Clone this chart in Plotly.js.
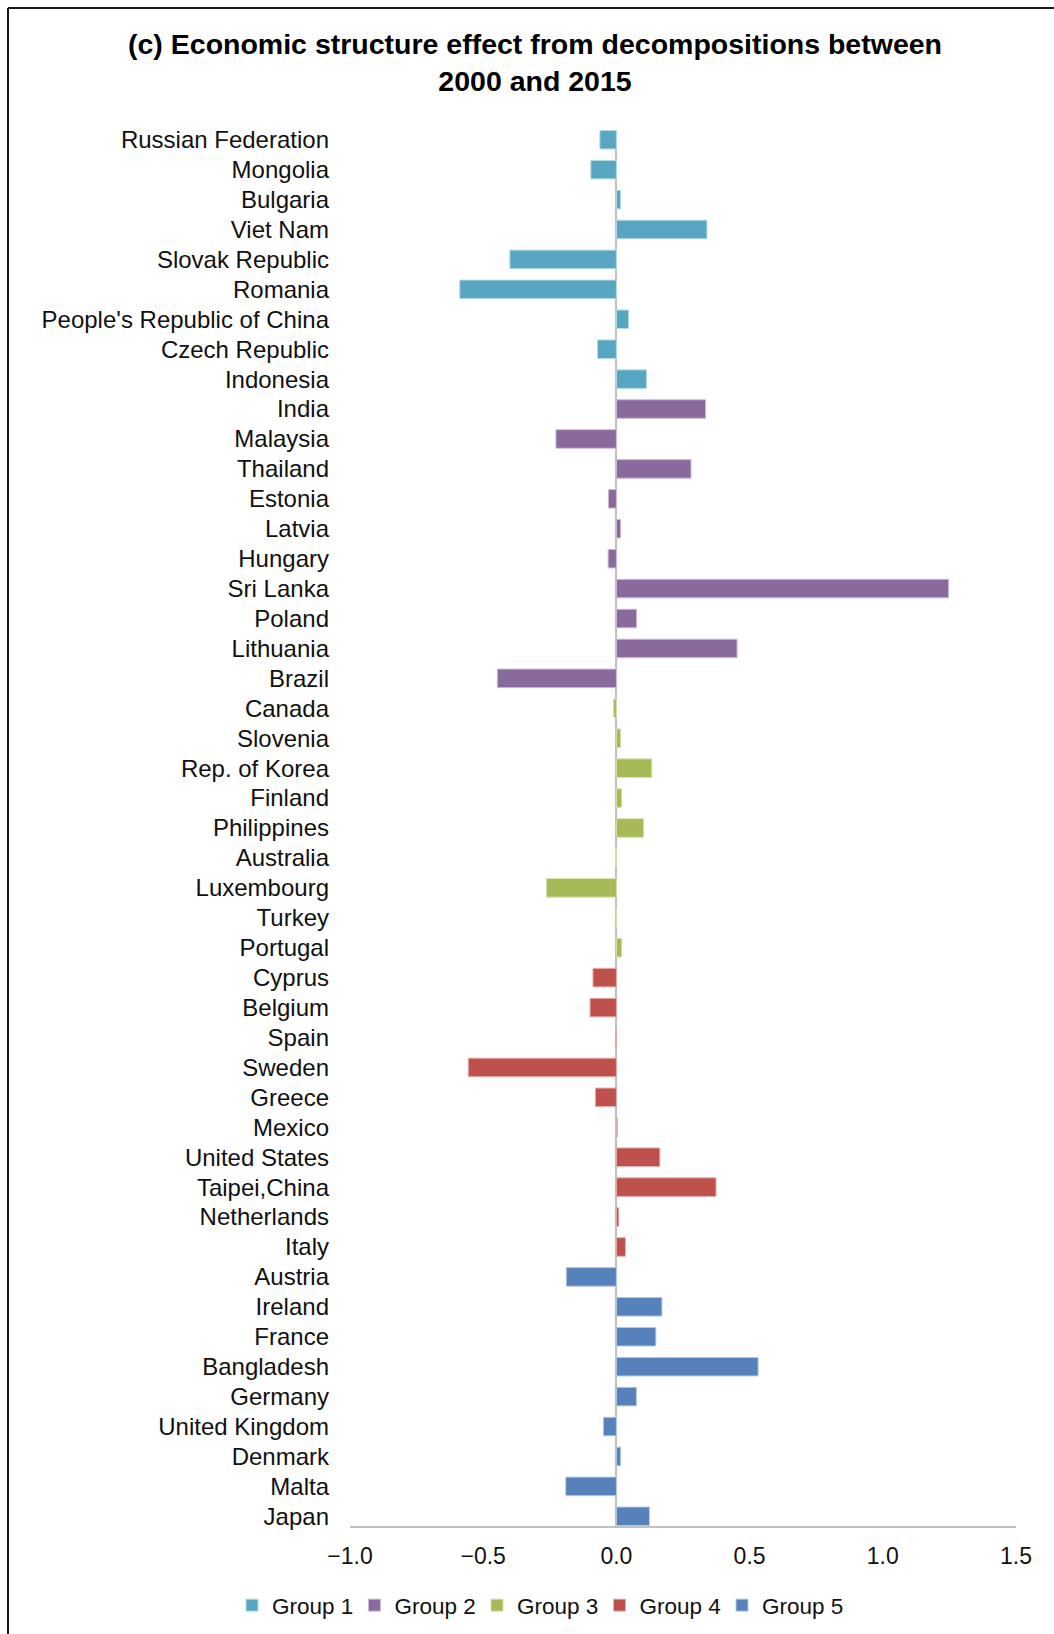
<!DOCTYPE html>
<html>
<head>
<meta charset="utf-8">
<script src="https://cdn.plot.ly/plotly-3.0.1.min.js"></script>
<style>
html,body{margin:0;padding:0;background:#fff;}
#chart{width:1054px;height:1634px;}
</style>
</head>
<body>
<div id="chart"></div>
<script>
// ---- data ----
const group1Countries = ["Russian Federation","Mongolia","Bulgaria","Viet Nam","Slovak Republic","Romania","People's Republic of China","Czech Republic","Indonesia"];
const group1Values = [-0.062,-0.096,0.016,0.340,-0.400,-0.588,0.046,-0.071,0.113];

const group2Countries = ["India","Malaysia","Thailand","Estonia","Latvia","Hungary","Sri Lanka","Poland","Lithuania","Brazil"];
const group2Values = [0.335,-0.227,0.280,-0.030,0.016,-0.031,1.247,0.076,0.453,-0.447];

const group3Countries = ["Canada","Slovenia","Rep. of Korea","Finland","Philippines","Australia","Luxembourg","Turkey","Portugal"];
const group3Values = [-0.011,0.016,0.133,0.020,0.102,-0.003,-0.263,0.000,0.020];

const group4Countries = ["Cyprus","Belgium","Spain","Sweden","Greece","Mexico","United States","Taipei,China","Netherlands","Italy"];
const group4Values = [-0.088,-0.099,-0.003,-0.556,-0.079,0.004,0.163,0.374,0.009,0.034];

const group5Countries = ["Austria","Ireland","France","Bangladesh","Germany","United Kingdom","Denmark","Malta","Japan"];
const group5Values = [-0.188,0.171,0.148,0.532,0.075,-0.049,0.016,-0.190,0.124];

const groupNames = ["Group 1","Group 2","Group 3","Group 4","Group 5"];
const groupColors = ["#57A7C3","#8A699D","#A6B957","#BE514C","#5781BA"];
const groupLineColors = ["#B5DCE8","#CDBBD8","#D6E2AE","#E4AEAB","#B4C8E4"];

const xTickVals = [-1.0,-0.5,0.0,0.5,1.0,1.5];

const titleText = "(c) Economic structure effect from decompositions between<br>2000 and 2015";

// ---- build ----
const allCountries = [].concat(group1Countries, group2Countries, group3Countries, group4Countries, group5Countries);
const groups = [
  [group1Countries, group1Values],
  [group2Countries, group2Values],
  [group3Countries, group3Values],
  [group4Countries, group4Values],
  [group5Countries, group5Values]
];

const traces = groups.map((g, i) => ({
  type: 'bar',
  orientation: 'h',
  name: groupNames[i],
  y: g[0],
  x: g[1],
  width: 0.62,
  marker: {color: groupColors[i], line: {color: groupLineColors[i], width: 1}},
  hoverinfo: 'y+x'
}));

const FONT = '"Liberation Sans", Arial, sans-serif';
const n = allCountries.length;

const layout = {
  width: 1054,
  height: 1634,
  paper_bgcolor: '#fff',
  plot_bgcolor: '#fff',
  margin: {l: 350, r: 38, t: 130, b: 108, pad: 0, autoexpand: false},
  barmode: 'overlay',
  showlegend: true,
  font: {family: FONT, color: '#111', size: 23},
  title: {
    text: titleText,
    font: {family: FONT, size: 28.5, color: '#000', weight: 'bold'},
    xref: 'container', x: 0.5076,
    yref: 'container', y: 1 - 53.5/1634, yanchor: 'middle', xanchor: 'center'
  },
  xaxis: {
    range: [-1.0, 1.5],
    tickvals: xTickVals,
    tickformat: '.1f',
    showgrid: false,
    zeroline: true,
    zerolinecolor: '#BFBFBF',
    zerolinewidth: 1.5,
    showline: true,
    linecolor: '#BFBFBF',
    linewidth: 1.5,
    ticks: 'outside',
    ticklen: 9,
    tickcolor: 'rgba(0,0,0,0)',
    tickfont: {family: FONT, size: 23, color: '#111'},
    automargin: false,
    fixedrange: true
  },
  yaxis: {
    type: 'category',
    categoryorder: 'array',
    categoryarray: allCountries,
    range: [n - 1 + 0.324, -0.324],
    autorange: false,
    showgrid: false,
    zeroline: false,
    showline: false,
    ticks: '',
    ticklabelstandoff: 20,
    tickfont: {family: FONT, size: 24, color: '#111'},
    automargin: false,
    fixedrange: true
  },
  legend: {
    orientation: 'h',
    xref: 'container', x: 232/1054, xanchor: 'left',
    yref: 'container', y: 1 - 1605.5/1634, yanchor: 'middle',
    font: {family: FONT, size: 22.5, color: '#111'},
    entrywidth: 77.5,
    entrywidthmode: 'pixels',
    itemclick: false,
    itemdoubleclick: false,
    traceorder: 'normal'
  },
  shapes: [
    {type: 'line', xref: 'paper', yref: 'paper', x0: (8-350)/666, x1: (8-350)/666, y0: (1525.7-8)/1395.7, y1: (1525.7-1640)/1395.7, line: {color: '#1a1a1a', width: 2}},
    {type: 'line', xref: 'paper', yref: 'paper', x0: (8-350)/666, x1: (1060-350)/666, y0: (1525.7-8)/1395.7, y1: (1525.7-8)/1395.7, line: {color: '#1a1a1a', width: 2}}
  ]
};

Plotly.newPlot('chart', traces, layout, {displayModeBar: false, staticPlot: false});
</script>
</body>
</html>
